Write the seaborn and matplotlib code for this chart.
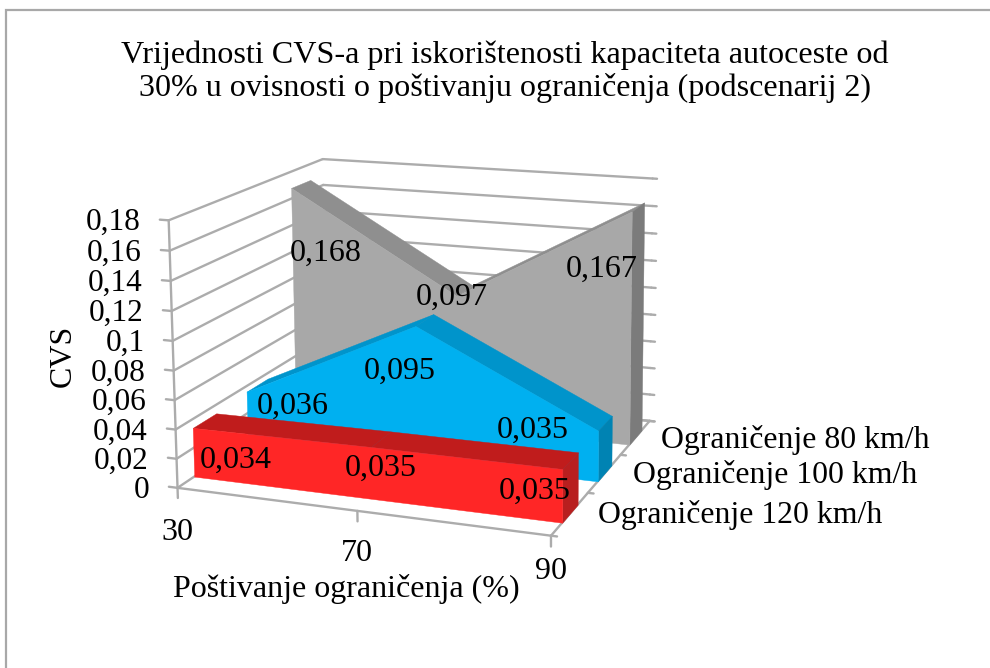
import numpy as np
import matplotlib
matplotlib.use("Agg")
import matplotlib.pyplot as plt
from matplotlib.lines import Line2D
from mpl_toolkits.mplot3d import proj3d
from mpl_toolkits.mplot3d.art3d import Poly3DCollection
import seaborn as sns

# ---- data ----
title = ("Vrijednosti CVS-a pri iskorištenosti kapaciteta autoceste od\n"
         "30% u ovisnosti o poštivanju ograničenja (podscenarij 2)")
categories = ["30", "70", "90"]
series_names = ["Ograničenje 120 km/h", "Ograničenje 100 km/h", "Ograničenje 80 km/h"]
values_120 = [0.034, 0.035, 0.035]
values_100 = [0.036, 0.095, 0.035]
values_80 = [0.168, 0.097, 0.167]
z_ticks = [0, 0.02, 0.04, 0.06, 0.08, 0.1, 0.12, 0.14, 0.16, 0.18]
x_label = "Poštivanje ograničenja (%)"
z_label = "CVS"

# ---- style ----
sns.set_theme(style="white")
plt.rcParams["font.family"] = ["Liberation Serif", "DejaVu Serif"]
plt.rcParams["text.color"] = "black"
FS = 23
GRID = "#acacac"
front_cols = sns.color_palette(["#ff2626", "#00b0f0", "#a8a8a8"])
top_cols = sns.color_palette(["#c01c1c", "#0094cb", "#8f8f8f"])
end_cols = sns.color_palette(["#b81f1f", "#0083b3", "#7b7b7b"])
label_offsets = [[(43, -32), (10, -21), (-28, -22)],
                 [(46, -15), (-16, -45), (-65, 0)],
                 [(35, -65), (-5, -2), (-30, -58)]]
HALF = 0.21
W, H = 990, 668

fig = plt.figure(figsize=(W / 100, H / 100), dpi=100)
fig.patch.set_facecolor("white")
fig.add_artist(Line2D([6 / W, 6 / W, 1], [0, 1 - 10 / H, 1 - 10 / H], transform=fig.transFigure,
                      color="#a8a8a8", lw=1.6, solid_joinstyle="miter"))
ax = fig.add_axes([0, 0, 1, 1], projection="3d", computed_zorder=False)
ax.set_proj_type("ortho")
ax.set_axis_off()
ax.patch.set_visible(False)

# camera: fitted to where the box corners sit on the canvas
xn, yn, zn = len(categories) - 1, len(series_names), max(z_ticks)
corners3d = [(0, 0, 0), (xn, 0, 0), (xn, yn, 0), (0, yn, 0),
             (0, 0, zn), (xn, 0, zn), (xn, yn, zn), (0, yn, zn)]
corners2d = [(178, 490), (550, 535), (650, 422), (327, 385),
             (169, 221), (552, 246), (653, 180), (322, 159)]
A, b = [], []
for (X, Y, Z), (u, v) in zip(corners3d, corners2d):
    v = H - v
    A.append([X, Y, Z, 1, 0, 0, 0, 0, -u * X, -u * Y, -u * Z])
    A.append([0, 0, 0, 0, X, Y, Z, 1, -v * X, -v * Y, -v * Z])
    b += [u, v]
p = np.linalg.lstsq(np.array(A, float), np.array(b, float), rcond=None)[0]
P = np.append(p, 1).reshape(3, 4)
ax.apply_aspect()
P2 = ax.transData.inverted().get_matrix() @ P
M = np.array([P2[0], P2[1], [0.0, 1.0, 0.0, 0.0], P2[2]])
ax.get_proj = lambda: M
ax.M = M


def poly(verts, col, z):
    c = Poly3DCollection([verts], facecolors=[col], edgecolors=[col], linewidths=0.3)
    ax.add_collection3d(c, autolim=False)
    c.set_zorder(z)
    c.set_clip_on(False)


def line(a, b, z=1, lw=1.7):
    ax.plot(*zip(a, b), color=GRID, lw=lw, zorder=z, clip_on=False)


def label(xyz, s, off, fs=FS, **kw):
    x2, y2, _ = proj3d.proj_transform(*xyz, M)
    ax.annotate(s, (x2, y2), xytext=off, textcoords="offset pixels",
                annotation_clip=False, fontsize=fs, color="black", **kw)


# walls and floor
for zt in z_ticks:
    line((0, 0, zt), (0, yn, zt))
    line((0, yn, zt), (xn, yn, zt))
    line((0, 0, zt), (-0.05, 0, zt))
    line((xn, yn, zt), (xn + 0.025, yn, zt))
line((0, 0, 0), (0, 0, zn))
line((0, 0, 0), (xn, 0, 0))
line((xn, 0, 0), (xn, yn, 0))
line((0, yn, 0), (xn, yn, 0))
for i in range(len(categories)):
    line((i, 0, 0), (i, 0, -0.007))
for j in range(len(series_names) + 1):
    line((xn, j, 0), (xn + 0.03, j, 0))

# areas, back to front
all_values = [values_120, values_100, values_80]
xs = np.arange(len(categories))
for j in reversed(range(len(all_values))):
    v = all_values[j]
    yf, yb = j + 0.5 - HALF, j + 0.5 + HALF
    base = 10 * (len(all_values) - j)
    for i in range(len(xs) - 1):
        poly([(xs[i], yf, v[i]), (xs[i + 1], yf, v[i + 1]),
              (xs[i + 1], yb, v[i + 1]), (xs[i], yb, v[i])], top_cols[j], base)
    poly([(xs[-1], yf, 0), (xs[-1], yb, 0), (xs[-1], yb, v[-1]), (xs[-1], yf, v[-1])],
         end_cols[j], base + 1)
    poly([(xs[0], yf, 0)] + [(x, yf, val) for x, val in zip(xs, v)] + [(xs[-1], yf, 0)],
         front_cols[j], base + 2)
    for i, val in enumerate(v):
        label((xs[i], yf, val), f"{val:.3f}".replace(".", ","), label_offsets[j][i],
              ha="center", va="center", zorder=100)

# axis labels
for zt in z_ticks:
    label((0, 0, zt), f"{zt:g}".replace(".", ","), (-28, -10), fs=22.5,
          ha="right", va="baseline", zorder=100)
cat_off = [(0, -45), (0, -43), (0, -36)]
for i, c in enumerate(categories):
    label((i, 0, 0), c, cat_off[i], ha="center", va="center", zorder=100)
ser_off = [(28, -1), (28, -2), (26, -3)]
for j, s in enumerate(series_names):
    label((xn, j + 0.5, 0), s, ser_off[j], fs=22.9, ha="left", va="center", zorder=100)

fig.text(505 / W, 1 - 72 / H, title, ha="center", va="center", fontsize=23.1, linespacing=1.15)
fig.text(346 / W, 1 - 589 / H, x_label, ha="center", va="center", fontsize=FS)
fig.text(63 / W, 1 - 356 / H, z_label, ha="center", va="center", fontsize=FS, rotation=90)

fig.savefig("out.png", dpi=100)
